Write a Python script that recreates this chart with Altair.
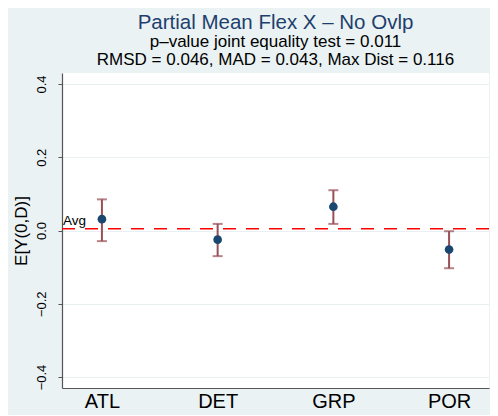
import altair as alt
import pandas as pd

categories = ["ATL", "DET", "GRP", "POR"]
estimates = [0.031, -0.025, 0.065, -0.052]
ci_low = [-0.029, -0.070, 0.018, -0.103]
ci_high = [0.085, 0.018, 0.110, -0.002]
avg_value = 0.005
y_ticks = [-0.4, -0.2, 0.0, 0.2, 0.4]

df = pd.DataFrame({"cat": categories, "est": estimates, "lo": ci_low, "hi": ci_high})
avg_df = pd.DataFrame({"avg": [avg_value], "label": ["Avg"]})

FONT = "Liberation Sans"
ERR = "#984f57"
PT = "#1a476f"

xenc = alt.X("cat:N", sort=categories, title=None,
             scale=alt.Scale(type="point", padding=0.345),
             axis=alt.Axis(labelAngle=0, labelFontSize=20, labelColor="black",
                           ticks=False, domain=True, domainColor="#555555",
                           domainWidth=1.2, labelPadding=3, grid=False, labelFont=FONT))
yscale = alt.Scale(domain=[-0.43, 0.43], nice=False, zero=False)
yaxis = alt.Axis(values=y_ticks, format=".1f", labelAngle=270, labelAlign="center",
                 labelBaseline="bottom", labelFontSize=13, labelColor="black",
                 labelPadding=10, tickSize=4, tickColor="#555555", domainColor="#555555",
                 domainWidth=1.2, grid=True, gridColor="#e8f0f2", gridWidth=1.2,
                 title="E[Y(0,D)]", titleFontSize=17, titleFontWeight="normal",
                 titleColor="black", titlePadding=5, labelFont=FONT, titleFont=FONT)

base = alt.Chart(df)

rules = base.mark_rule(color=ERR, strokeWidth=2).encode(
    x=xenc, y=alt.Y("lo:Q", scale=yscale, axis=yaxis), y2="hi:Q")
caps_hi = base.mark_tick(color=ERR, orient="horizontal", size=10, thickness=2).encode(
    x=alt.X("cat:N", sort=categories), y=alt.Y("hi:Q"))
caps_lo = base.mark_tick(color=ERR, orient="horizontal", size=10, thickness=2).encode(
    x=alt.X("cat:N", sort=categories), y=alt.Y("lo:Q"))
pts = base.mark_circle(color=PT, size=75, opacity=1).encode(
    x=alt.X("cat:N", sort=categories), y=alt.Y("est:Q"))

avg_line = alt.Chart(avg_df).mark_rule(color="#ff0000", strokeWidth=1.5,
                                       strokeDash=[13, 10]).encode(y=alt.Y("avg:Q"))
avg_text = alt.Chart(avg_df).mark_text(align="left", baseline="bottom", dx=1, dy=-1,
                                       fontSize=13.5, font=FONT, color="black").encode(
    x=alt.value(0), y=alt.Y("avg:Q"), text="label:N")

chart = alt.layer(rules, caps_hi, caps_lo, avg_line, avg_text, pts).properties(
    width=427, height=315,
    background="#eaf2f3",
    autosize=alt.AutoSizeParams(type="none"),
    padding={"left": 54, "top": 65, "right": 1, "bottom": 27},
    title=alt.TitleParams(
        text="Partial Mean Flex X \u2013 No Ovlp",
        subtitle=["p\u2013value joint equality test = 0.011",
                  "RMSD = 0.046, MAD = 0.043, Max Dist = 0.116"],
        font=FONT, fontSize=20.5, fontWeight="normal", color="#1e3f6e",
        subtitleFont=FONT, subtitleFontSize=17, subtitleColor="black",
        subtitleLineHeight=18, subtitlePadding=1, anchor="middle", frame="group",
        offset=5),
).configure_view(fill="white", stroke=None).configure_axis(labelFont=FONT)

chart.save("out.html", embed_options={"renderer": "svg", "actions": False})
